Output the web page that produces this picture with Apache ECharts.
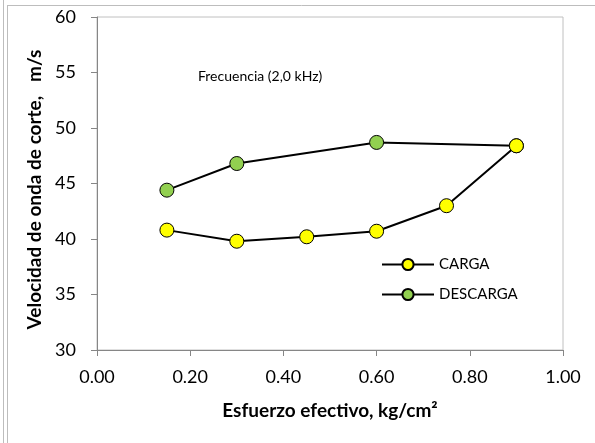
<!DOCTYPE html>
<html>
<head>
<meta charset="utf-8">
<script src="https://cdn.jsdelivr.net/npm/echarts@6/dist/echarts.min.js"></script>
<style>
  html, body { margin: 0; padding: 0; background: #fff; }
  #chart { width: 595px; height: 443px; }
</style>
</head>
<body>
<div id="chart"></div>
<script>
// Effective stress (kg/cm²) and shear-wave velocity (m/s)
const cargaX = [0.15, 0.30, 0.45, 0.60, 0.75, 0.90];
const cargaY = [40.8, 39.8, 40.2, 40.7, 43.0, 48.4];
const descargaX = [0.90, 0.60, 0.30, 0.15];
const descargaY = [48.4, 48.7, 46.8, 44.4];
const xTicks = [0.0, 0.2, 0.4, 0.6, 0.8, 1.0];
const yTicks = [30, 35, 40, 45, 50, 55, 60];

const FONT = 'Lato, "Liberation Sans", sans-serif';
const pair = (xs, ys) => xs.map((x, i) => [x, ys[i]]);

const chart = echarts.init(document.getElementById('chart'), null, { renderer: 'canvas' });
chart.setOption({
  animation: false,
  backgroundColor: '#fff',
  textStyle: { fontFamily: FONT },
  grid: {
    left: 97, top: 17, width: 466, height: 333,
    show: true, borderColor: '#c0c0c0', borderWidth: 1, backgroundColor: 'transparent'
  },
  xAxis: {
    type: 'value', min: xTicks[0], max: xTicks[xTicks.length - 1], interval: 0.2,
    axisLine: { show: true, onZero: false, lineStyle: { color: '#868686', width: 1 } },
    axisTick: { show: true, length: 6, lineStyle: { color: '#868686' } },
    splitLine: { show: false },
    axisLabel: { color: '#000', fontSize: 18, margin: 18, fontFamily: FONT, formatter: v => v.toFixed(2) },
    name: 'Esfuerzo efectivo, kg/cm²', nameLocation: 'middle', nameGap: 51,
    nameTextStyle: { color: '#000', fontSize: 19, fontWeight: 'bold', fontFamily: FONT }
  },
  yAxis: {
    type: 'value', min: yTicks[0], max: yTicks[yTicks.length - 1], interval: 5,
    axisLine: { show: true, onZero: false, lineStyle: { color: '#868686', width: 1 } },
    axisTick: { show: true, length: 6, lineStyle: { color: '#868686' } },
    splitLine: { show: false },
    axisLabel: { color: '#000', fontSize: 18, margin: 21, fontFamily: FONT },
    name: 'Velocidad de onda de corte,   m/s', nameLocation: 'middle', nameGap: 47,
    nameTextStyle: { color: '#000', fontSize: 19, fontWeight: 'bold', fontFamily: FONT, padding: [0, 12, 0, 0] }
  },
  legend: {
    orient: 'vertical', left: 376, top: 252, itemGap: 15,
    itemWidth: 52, itemHeight: 14,
    textStyle: { color: '#000', fontSize: 15, fontFamily: FONT },
    data: ['CARGA', 'DESCARGA']
  },
  series: [
    {
      name: 'DESCARGA', type: 'line', z: 2,
      data: pair(descargaX, descargaY),
      symbol: 'circle', symbolSize: 14,
      lineStyle: { color: '#000', width: 2 },
      itemStyle: { color: '#92d050', borderColor: '#000', borderWidth: 1 }
    },
    {
      name: 'CARGA', type: 'line', z: 3,
      data: pair(cargaX, cargaY),
      symbol: 'circle', symbolSize: 14,
      lineStyle: { color: '#000', width: 2 },
      itemStyle: { color: '#ffff00', borderColor: '#000', borderWidth: 1 }
    }
  ],
  graphic: [
    { type: 'text', left: 198, top: 69,
      style: { text: 'Frecuencia (2,0 kHz)', fontSize: 14, fontFamily: FONT, fill: '#000' } },
    // outer frame lines
    { type: 'line', shape: { x1: 8, y1: 5.5, x2: 595, y2: 5.5 }, style: { stroke: '#bdbdbd', lineWidth: 1 } },
    { type: 'line', shape: { x1: 3.5, y1: 0, x2: 3.5, y2: 443 }, style: { stroke: '#bdbdbd', lineWidth: 1 } },
    { type: 'line', shape: { x1: 7.5, y1: 5, x2: 7.5, y2: 443 }, style: { stroke: '#bdbdbd', lineWidth: 1 } }
  ]
});
</script>
</body>
</html>
